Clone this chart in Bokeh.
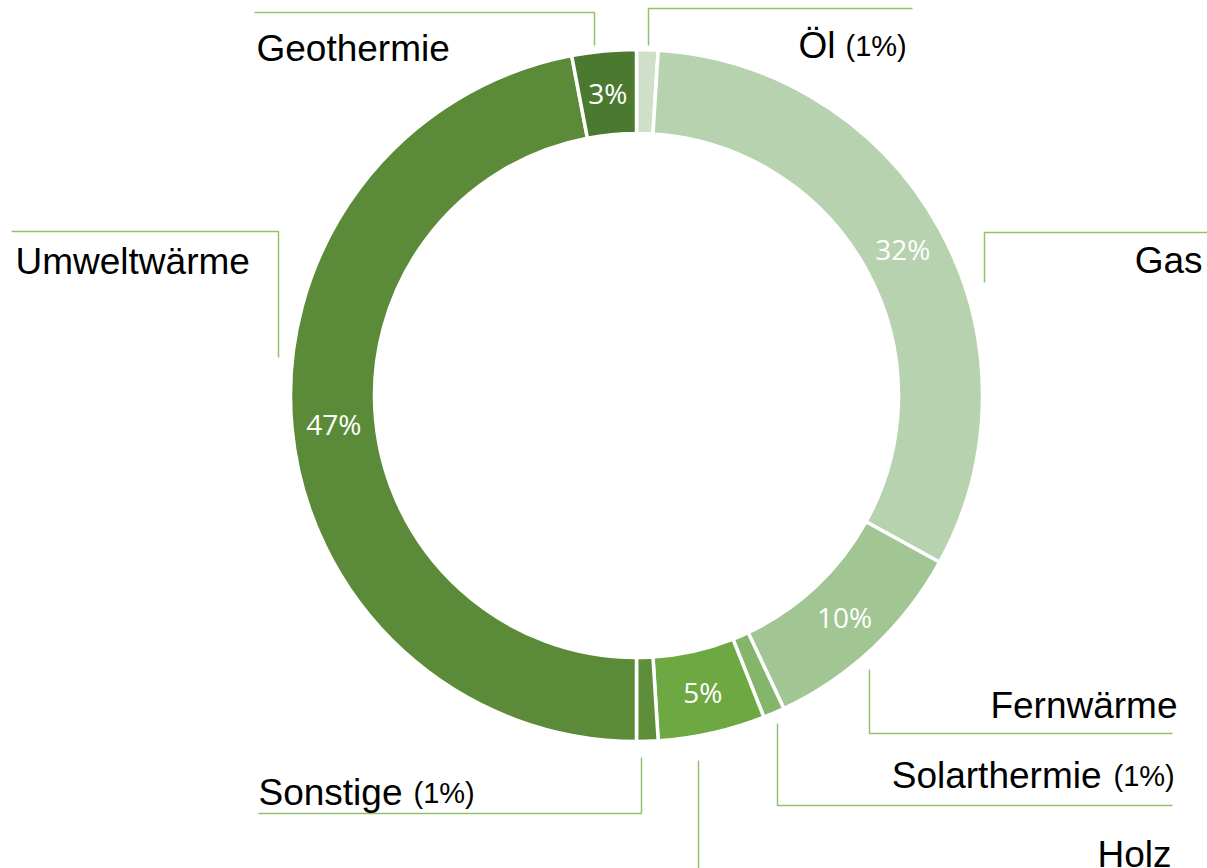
import math
from bokeh.plotting import figure
from bokeh.models import Range1d, ColumnDataSource
from bokeh.core.properties import value
from bokeh.embed import file_html
from bokeh.resources import INLINE

# ---------------- data ----------------
categories = ["Öl", "Gas", "Fernwärme", "Solarthermie", "Holz", "Sonstige", "Umweltwärme", "Geothermie"]
shares = [1, 32, 10, 1, 5, 1, 47, 3]
pct_labels = [f"{v}%" for v in shares]
small_suffix = ["(1%)", "", "", "(1%)", "", "(1%)", "", ""]
colors = ["#d0e0c8", "#b7d2ae", "#a2c594", "#85b56a", "#6ea843", "#5e8e3a", "#5b8b38", "#4b7930"]

# ---------------- layout ----------------
W, H = 1207, 868
BASELINE_FIX = 12


def X(px):
    return px


def Y(py):
    return H - py


CX, CY = X(636), Y(395)
R_OUT, R_IN = 346, 262
R_LABEL = 304

p = figure(width=W, height=H, x_range=Range1d(0, W), y_range=Range1d(0, H),
           output_backend="svg", toolbar_location=None, min_border=0,
           background_fill_color="white", border_fill_color="white")
p.axis.visible = False
p.grid.visible = False
p.outline_line_color = None

total = float(sum(shares))
starts, ends, mids = [], [], []
cum = 0.0
for v in shares:
    f0 = cum / total
    cum += v
    f1 = cum / total
    starts.append(math.pi / 2 - 2 * math.pi * f0)
    ends.append(math.pi / 2 - 2 * math.pi * f1)
    mids.append(math.pi / 2 - 2 * math.pi * (f0 + f1) / 2)

src = ColumnDataSource(dict(cat=categories, start=starts, end=ends, color=colors))
p.annular_wedge(x=CX, y=CY, inner_radius=R_IN, outer_radius=R_OUT,
                start_angle="start", end_angle="end", direction="clock",
                fill_color="color", line_color="white", line_width=3.5, source=src)

# percentage labels inside ring (segments >= 3%)
lx, ly, lt = [], [], []
for v, m, t in zip(shares, mids, pct_labels):
    if v >= 3:
        lx.append(CX + R_LABEL * math.cos(m))
        ly.append(CY + R_LABEL * math.sin(m))
        lt.append(t)
p.text(x=lx, y=ly, text=lt, text_color="white", text_font=value("Open Sans"),
       text_font_size="28px", text_align="center", text_baseline="middle")

# leader lines (image pixel corners)
leaders = [
    [(648, 45), (648, 8), (912, 8)],            # Öl
    [(984, 282), (984, 232), (1207, 232)],      # Gas
    [(869, 669), (869, 733), (1172, 733)],      # Fernwärme
    [(777, 723), (777, 805), (1172, 805)],      # Solarthermie
    [(698, 760), (698, 870)],                   # Holz
    [(641, 757), (641, 813), (258, 813)],       # Sonstige
    [(278, 357), (278, 231), (11, 231)],        # Umweltwärme
    [(594, 45), (594, 12), (254, 12)],          # Geothermie
]
p.multi_line(xs=[[X(a) for a, b in L] for L in leaders],
             ys=[[Y(b) for a, b in L] for L in leaders],
             line_color="#92c26f", line_width=1.5)

# category labels: (anchor x, baseline y, align)
label_pos = [
    (835, 57, "right"),    # Öl
    (1202, 272, "right"),  # Gas
    (1177, 717, "right"),  # Fernwärme
    (1101, 787, "right"),  # Solarthermie
    (1171, 866, "right"),  # Holz
    (258, 804, "left"),    # Sonstige
    (15, 273, "left"),     # Umweltwärme
    (256, 60, "left"),     # Geothermie
]
suffix_pos = {0: (845, 57), 3: (1113, 787), 5: (413, 804)}

for i, (cat, (px, py, al)) in enumerate(zip(categories, label_pos)):
    p.text(x=[X(px)], y=[Y(py - BASELINE_FIX)], text=[cat], text_color="black",
           text_font=value("Liberation Sans"), text_font_size="37px",
           text_align=al, text_baseline="alphabetic")
    if small_suffix[i]:
        sx, sy = suffix_pos[i]
        p.text(x=[X(sx)], y=[Y(sy - BASELINE_FIX)], text=[small_suffix[i]], text_color="black",
               text_font=value("Liberation Sans"), text_font_size="29px",
               text_align="left", text_baseline="alphabetic")

open("out.html", "w").write(file_html(p, INLINE))
